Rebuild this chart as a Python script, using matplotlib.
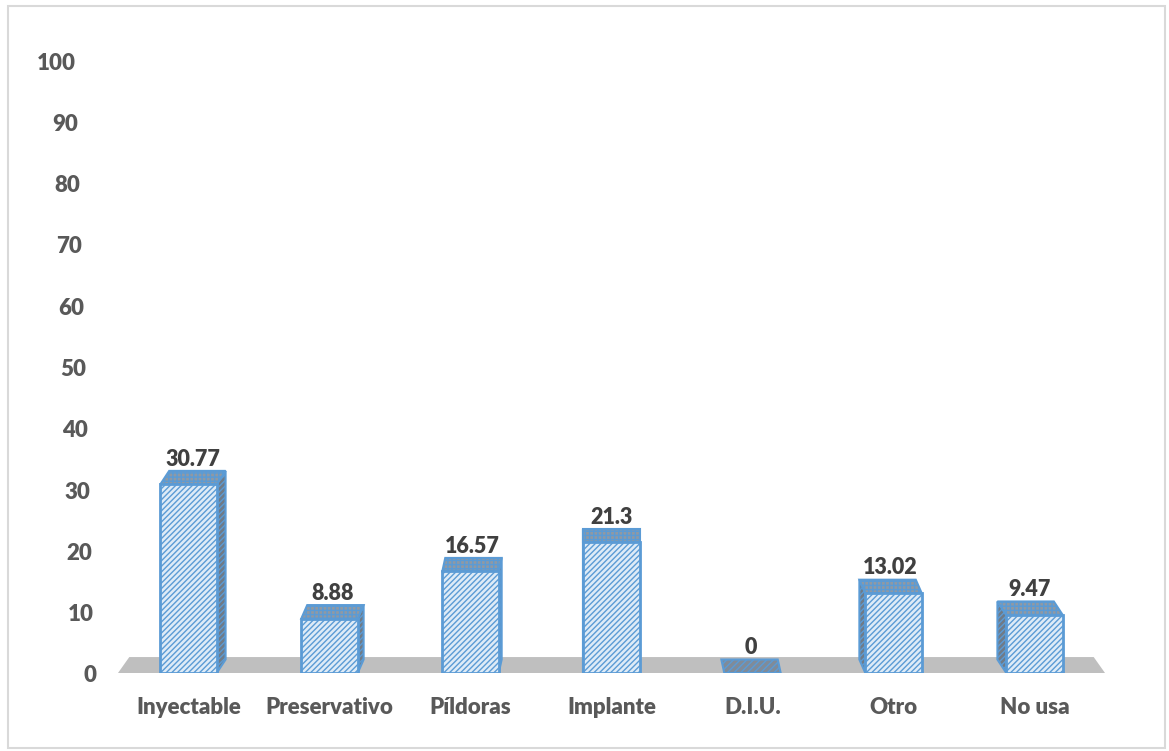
import matplotlib
matplotlib.use("Agg")
import matplotlib.pyplot as plt
from matplotlib.patches import Polygon, Rectangle
from matplotlib.transforms import offset_copy

# metodos anticonceptivos (%)
categorias = ["Inyectable", "Preservativo", "Píldoras", "Implante", "D.I.U.", "Otro", "No usa"]
valores = [30.77, 8.88, 16.57, 21.3, 0, 13.02, 9.47]
etiquetas = ["30.77", "8.88", "16.57", "21.3", "0", "13.02", "9.47"]
yticks = list(range(0, 101, 10))

plt.rcParams["font.family"] = ["Lato", "DejaVu Sans"]
plt.rcParams["hatch.linewidth"] = 1.0

azul = "#5b9bd5"
texto = "#404040"
gris_ejes = "#595959"

W, H = 1169, 751
ax_izq, ax_der = 118, 1105
fig = plt.figure(figsize=(W / 100, H / 100), dpi=100)
ax = fig.add_axes([ax_izq / W, 1 - 673 / H, (ax_der - ax_izq) / W, (673 - 60) / H])
ax.set_xlim(-0.5, len(categorias) - 0.5)
ax.set_ylim(0, 100)

# efecto 3d: profundidad y fuga hacia el centro
ancho = 0.40
prof = 2.2
fuga = 0.021
centro = (len(categorias) - 1) / 2

# piso gris
piso_y = 2.6
ax.add_patch(Polygon([(-0.5, 0), (6.5, 0), (6.5 - 0.08, piso_y), (-0.5 + 0.08, piso_y)],
                     closed=True, facecolor="#bfbfbf", edgecolor="none", zorder=1))

for i, v in enumerate(valores):
    dx = -(i - centro) * fuga
    x0, x1 = i - ancho / 2, i + ancho / 2
    # cara lateral
    if dx > 0:
        lado = [(x1, 0), (x1 + dx, prof), (x1 + dx, v + prof), (x1, v)]
    else:
        lado = [(x0, 0), (x0 + dx, prof), (x0 + dx, v + prof), (x0, v)]
    if v > 0:
        ax.add_patch(Polygon(lado, closed=True, facecolor="#6f7b88", edgecolor=azul,
                             hatch="//////", linewidth=1.5, zorder=2))
    # cara superior
    tapa = [(x0, v), (x1, v), (x1 + dx, v + prof), (x0 + dx, v + prof)]
    ax.add_patch(Polygon(tapa, closed=True, facecolor="#8f99a4" if v > 0 else "#7f8b99",
                         edgecolor=azul, hatch="++++" if v > 0 else "/////",
                         linewidth=1.5, zorder=3))
    # cara frontal
    if v > 0:
        ax.add_patch(Rectangle((x0, 0), ancho, v, facecolor="#deebf7", edgecolor=azul,
                               hatch="//////", linewidth=2, zorder=4))
    ax.text(i + dx / 2, v + prof + 0.2, etiquetas[i], ha="center", va="bottom",
            fontsize=15.5, fontweight="heavy", color=texto, zorder=5)

ax.set_xticks(range(len(categorias)))
ax.set_xticklabels(categorias, fontsize=16, fontweight="heavy", color=gris_ejes)
ax.tick_params(axis="x", length=0, pad=17)
ax.set_yticks([])

# etiquetas del eje y, siguiendo la pared inclinada
trans_y = offset_copy(ax.get_yaxis_transform(), fig=fig, x=0, y=-3, units="dots")
for t in yticks:
    x_px = 96 - 0.2 * t
    ax.text((x_px - ax_izq) / (ax_der - ax_izq), t, str(t), transform=trans_y,
            ha="right", va="center", fontsize=16, fontweight="heavy", color=gris_ejes)

for s in ax.spines.values():
    s.set_visible(False)

# borde del grafico
fig.add_artist(Rectangle((8 / W, 3 / H), 1157 / W, 742 / H, transform=fig.transFigure,
                         fill=False, edgecolor="#d9d9d9", linewidth=1.5))

fig.savefig("out.png", dpi=100)
